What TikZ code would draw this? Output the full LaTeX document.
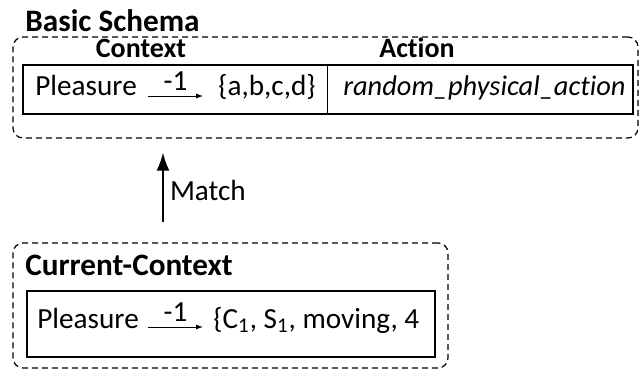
\documentclass[tikz,border=0pt]{standalone}
\usepackage{fontspec}
\setmainfont{Carlito}[Ligatures=NoCommon]
\usetikzlibrary{positioning,arrows.meta,calc}
\tikzset{
  groupbox/.style={draw, dash pattern=on 3pt off 2pt, line width=0.6pt, rounded corners=5pt, inner sep=0pt},
  tablebox/.style={draw, line width=0.9pt, inner sep=0pt},
  txt/.style={inner sep=0pt, anchor=base west, font=\fontsize{14.6pt}{17pt}\selectfont},
  headtxt/.style={inner sep=0pt, anchor=base west, font=\fontsize{15.6pt}{18pt}\selectfont\bfseries},
  coltxt/.style={inner sep=0pt, anchor=base, font=\fontsize{14pt}{17pt}\selectfont\bfseries},
  linkarrow/.style={-{Latex[length=3.5pt,width=2.6pt]}, line width=0.5pt},
  matcharrow/.style={-{Latex[length=9pt,width=6.5pt]}, line width=1pt},
  linklabel/.style={above, inner sep=2.5pt, font=\fontsize{14.6pt}{17pt}\selectfont}
}
\begin{document}
\begin{tikzpicture}[x=0.5pt, y=-0.5pt]
  \useasboundingbox (0,0) rectangle (639,370);
  % basic schema
  \node[groupbox, minimum width=312.5pt, minimum height=50.5pt] (basic) at (325.5,87.5) {};
  \node[headtxt] (basichead) at (25,31) {Basic Schema};
  \node[coltxt] (ctxhead) at (141,57) {Context};
  \node[coltxt] (acthead) at (417,57) {Action};
  \node[tablebox, minimum width=305pt, minimum height=24.5pt] (tbl) at (328,89.5) {};
  \coordinate (colsep) at (327,0);
  \draw[line width=0.5pt] (tbl.north -| colsep) -- (tbl.south -| colsep);
  \node[txt] (pl) at (35,95) {Pleasure};
  \node[txt] (set) at (218,95) {\{a,b,c,d\}};
  \draw[linkarrow] ([xshift=5.5pt,yshift=-0.5pt]pl.base east) -- node[linklabel] {-1} ([xshift=-7.5pt,yshift=-0.5pt]set.base west);
  \node[txt, font=\fontsize{14.2pt}{17pt}\selectfont\itshape] (act) at (343,95) {random\_physical\_action};
  % current context
  \node[groupbox, minimum width=217.5pt, minimum height=62.5pt] (current) at (230.5,305.5) {};
  \node[headtxt] (curhead) at (25,275) {Current-Context};
  \node[tablebox, minimum width=204pt, minimum height=33pt] (curtbl) at (231,324) {};
  \node[txt] (curpl) at (37,328) {Pleasure};
  \node[txt] (curset) at (213,328) {\{C\textsubscript{\fontsize{10.5pt}{12pt}\selectfont 1}, S\textsubscript{\fontsize{10.5pt}{12pt}\selectfont 1}, moving, 4};
  \draw[linkarrow] ([xshift=4.5pt,yshift=0.5pt]curpl.base east) -- node[linklabel] {-1} ([xshift=-5pt,yshift=0.5pt]curset.base west);
  % match
  \coordinate (mx) at (163,0);
  \draw[matcharrow, shorten <=10pt, shorten >=7pt] (current.north -| mx) -- node[pos=0.5, right, inner sep=3pt, font=\fontsize{14.6pt}{17pt}\selectfont] {Match} (basic.south -| mx);
\end{tikzpicture}
\end{document}
